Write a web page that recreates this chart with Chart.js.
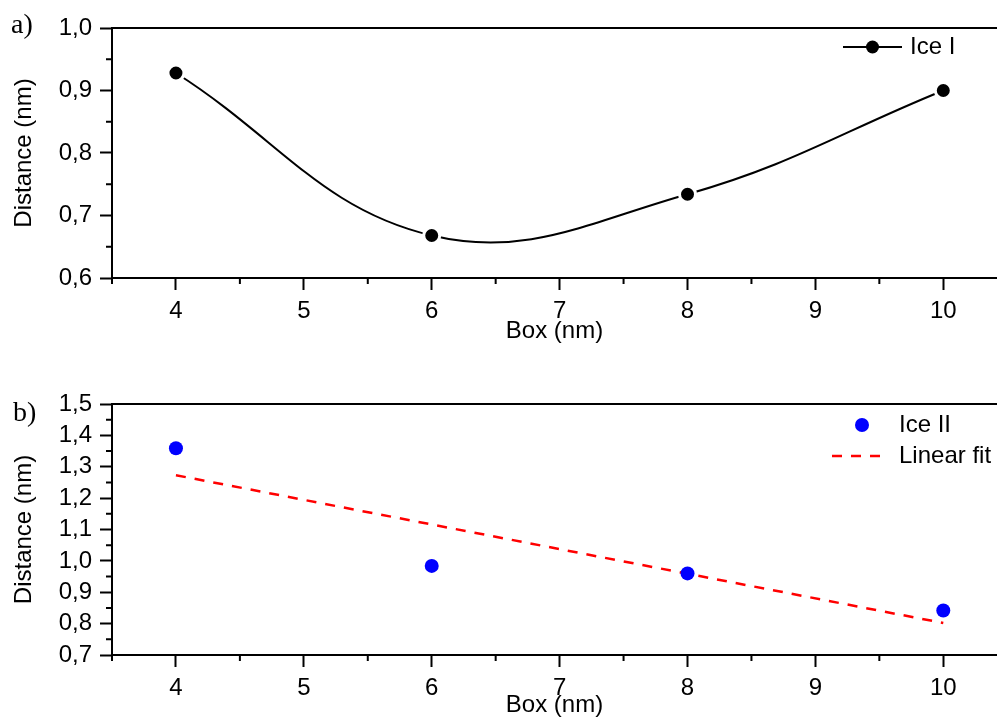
<!DOCTYPE html>
<html>
<head>
<meta charset="utf-8">
<script src="https://cdn.jsdelivr.net/npm/chart.js@4"></script>
<style>
  html, body { margin: 0; padding: 0; background: #fff; overflow: hidden; }
  canvas { position: absolute; left: 0; }
  #chartA { top: 0; }
  #chartB { top: 358px; }
</style>
</head>
<body>
<canvas id="chartA" width="997" height="358"></canvas>
<canvas id="chartB" width="997" height="359"></canvas>
<script>
// values
const boxSizes = [4, 6, 8, 10];
const iceIDistance = [0.928, 0.668, 0.734, 0.900];
const iceIIDistance = [1.359, 0.984, 0.960, 0.842];
const fitBox = [4, 10];
const fitDistance = [1.273, 0.802];

const xTicks = [4, 5, 6, 7, 8, 9, 10];
const xMinorTicks = [3.5, 4.5, 5.5, 6.5, 7.5, 8.5, 9.5];
const yTicksA = [0.6, 0.7, 0.8, 0.9, 1.0];
const yMinorA = [0.65, 0.75, 0.85, 0.95];
const yTicksB = [0.7, 0.8, 0.9, 1.0, 1.1, 1.2, 1.3, 1.4, 1.5];
const yMinorB = [0.75, 0.85, 0.95, 1.05, 1.15, 1.25, 1.35, 1.45];

const FONT = '"Liberation Sans", Arial, sans-serif';
const toPoints = (xs, ys) => xs.map((x, i) => ({ x: x, y: ys[i] }));
const comma = v => v.toFixed(1).replace('.', ',');

// frame top line, minor ticks, panel letter, legend
const decor = {
  id: 'decor',
  afterDraw(chart, args, opts) {
    const ctx = chart.ctx, a = chart.chartArea;
    const xs = chart.scales.x, ys = chart.scales.y;
    ctx.save();
    ctx.strokeStyle = '#000';
    ctx.lineWidth = 2;
    ctx.beginPath();
    ctx.moveTo(a.left, a.top);
    ctx.lineTo(a.right, a.top);
    opts.xMinor.forEach(v => {
      const px = xs.getPixelForValue(v);
      ctx.moveTo(px, a.bottom);
      ctx.lineTo(px, a.bottom + 6);
    });
    opts.yMinor.forEach(v => {
      const py = ys.getPixelForValue(v);
      ctx.moveTo(a.left, py);
      ctx.lineTo(a.left - 6, py);
    });
    ctx.stroke();

    ctx.fillStyle = '#000';
    ctx.font = '28px "Liberation Serif", serif';
    ctx.textBaseline = 'alphabetic';
    ctx.fillText(opts.letter, opts.letterX, opts.letterY);

    ctx.font = '24px ' + FONT;
    ctx.textBaseline = 'middle';
    opts.legend.forEach(item => {
      const ds = chart.data.datasets[item.ds];
      const y = a.top + item.dy;
      if (item.kind !== 'dot') {
        ctx.save();
        ctx.strokeStyle = ds.borderColor;
        ctx.lineWidth = ds.borderWidth;
        ctx.setLineDash(ds.borderDash || []);
        ctx.beginPath();
        ctx.moveTo(a.right + item.x0, y);
        ctx.lineTo(a.right + item.x1, y);
        ctx.stroke();
        ctx.restore();
      }
      if (item.kind !== 'dash') {
        const cx = item.kind === 'dot' ? a.right + item.x0 : a.right + (item.x0 + item.x1) / 2;
        ctx.beginPath();
        ctx.arc(cx, y, item.r, 0, Math.PI * 2);
        ctx.fillStyle = ds.pointBackgroundColor;
        ctx.fill();
      }
      ctx.fillStyle = '#000';
      ctx.fillText(ds.label, a.right + item.tx, y);
    });
    ctx.restore();
  }
};

function makeOptions(yMin, yMax, yTicks, xHeight, padTop, titlePad, titleLH, decorOpts) {
  return {
    responsive: false,
    animation: false,
    devicePixelRatio: 1,
    layout: { autoPadding: false, padding: { top: padTop, left: 0, right: 0, bottom: 0 } },
    plugins: { legend: { display: false }, tooltip: { enabled: false }, decor: decorOpts },
    scales: {
      x: {
        type: 'linear', min: 3.5, max: 10.42,
        afterBuildTicks: s => { s.ticks = xTicks.map(v => ({ value: v })); },
        afterFit: s => { s.height = xHeight; s.paddingLeft = 0; s.paddingRight = 0; },
        grid: { display: true, drawOnChartArea: false, drawTicks: true, tickLength: 12, tickWidth: 2, tickColor: '#000' },
        border: { display: true, color: '#000', width: 2 },
        ticks: { color: '#000', font: { family: FONT, size: 24 }, padding: 7, maxRotation: 0, autoSkip: false,
                 callback: v => String(v) },
        title: { display: true, text: 'Box (nm)', color: '#000', font: { family: FONT, size: 24, lineHeight: titleLH },
                 padding: { top: 0, bottom: titlePad } }
      },
      y: {
        type: 'linear', min: yMin, max: yMax,
        afterBuildTicks: s => { s.ticks = yTicks.map(v => ({ value: v })); },
        afterFit: s => { s.width = 112; },
        grid: { display: true, drawOnChartArea: false, drawTicks: true, tickLength: 12, tickWidth: 2, tickColor: '#000' },
        border: { display: true, color: '#000', width: 2 },
        ticks: { color: '#000', font: { family: FONT, size: 24 }, padding: 8, autoSkip: false, callback: v => comma(v) },
        title: { display: true, text: 'Distance (nm)', color: '#000', font: { family: FONT, size: 24 },
                 padding: { top: 10, bottom: 0 } }
      }
    }
  };
}

new Chart(document.getElementById('chartA'), {
  type: 'scatter',
  data: {
    datasets: [{
      label: 'Ice I',
      data: toPoints(boxSizes, iceIDistance),
      showLine: true,
      tension: 0.4,
      borderColor: '#000',
      borderWidth: 2,
      pointRadius: 8,
      pointBackgroundColor: '#000',
      pointBorderColor: '#fff',
      pointBorderWidth: 3
    }]
  },
  options: makeOptions(0.6, 1.0, yTicksA, 80, 28, 12, 1.2, {
    xMinor: xMinorTicks, yMinor: yMinorA, letter: 'a)', letterX: 11, letterY: 33,
    legend: [{ ds: 0, kind: 'lineDot', x0: -154, x1: -95, dy: 19, r: 6.5, tx: -87 }]
  }),
  plugins: [decor]
});

new Chart(document.getElementById('chartB'), {
  type: 'scatter',
  data: {
    datasets: [{
      label: 'Ice II',
      data: toPoints(boxSizes, iceIIDistance),
      showLine: false,
      pointRadius: 7,
      pointBorderWidth: 0,
      pointBackgroundColor: '#0000ff',
      borderColor: '#0000ff'
    }, {
      label: 'Linear fit',
      data: toPoints(fitBox, fitDistance),
      showLine: true,
      borderColor: '#ff0000',
      borderWidth: 2.5,
      borderDash: [10, 9],
      pointRadius: 0
    }]
  },
  options: makeOptions(0.7, 1.5, yTicksB, 62, 46, 0, 1.0, {
    xMinor: xMinorTicks, yMinor: yMinorB, letter: 'b)', letterX: 13, letterY: 63,
    legend: [
      { ds: 0, kind: 'dot', x0: -135, x1: -135, dy: 21, r: 7, tx: -98 },
      { ds: 1, kind: 'dash', x0: -165, x1: -115, dy: 52, r: 0, tx: -98 }
    ]
  }),
  plugins: [decor]
});
</script>
</body>
</html>
